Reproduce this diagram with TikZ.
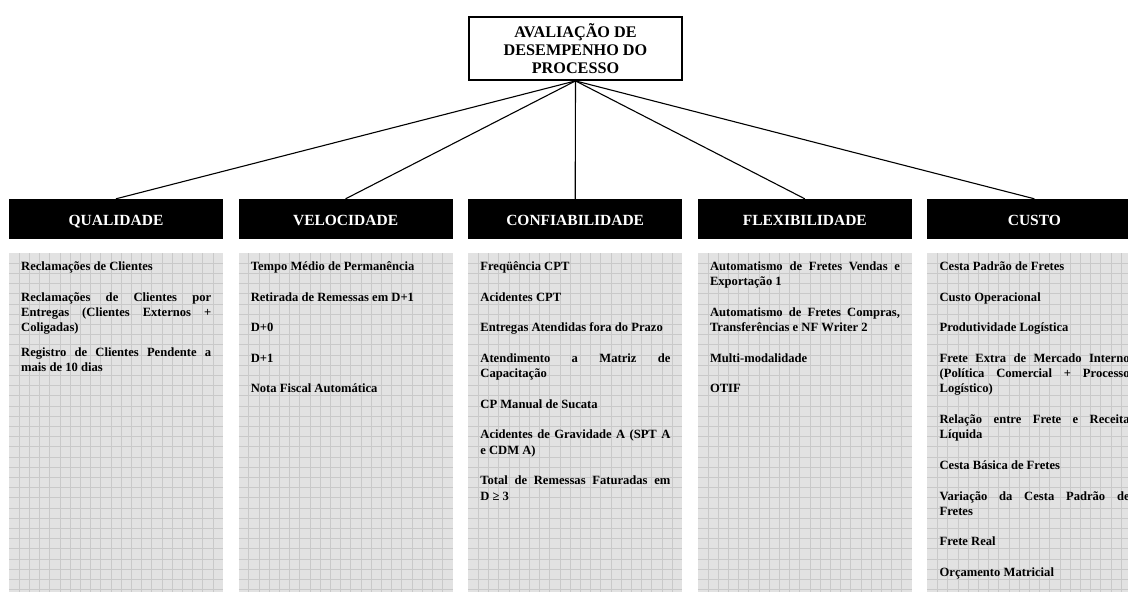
\documentclass[tikz,border=0pt]{standalone}
\usepackage{fontspec}
\setmainfont{Liberation Serif}
\begin{document}
\begin{tikzpicture}[x=1pt,y=-1pt,
  topbox/.style={draw=black, line width=1.8pt, fill=white, minimum width=213pt,
    minimum height=63pt, inner sep=0pt, align=center,
    font=\fontsize{16.2}{18}\selectfont\bfseries},
  headbox/.style={fill=black, text=white, minimum width=214pt, minimum height=40pt,
    inner sep=0pt, text height=13.3pt, text depth=0pt,
    font=\fontsize{15.5}{18}\selectfont\bfseries},
  itemtext/.style={anchor=base west, inner sep=0pt, text width=190pt, align=justify,
    font=\fontsize{12.6}{15.3}\selectfont\bfseries\itemsetup},
  link/.style={draw=black, line width=1.1pt},
  gridline/.style={draw=black!21, line width=0.9pt}]
\newcommand\itemsetup{\setlength{\parskip}{15.3pt}\setlength{\parindent}{0pt}%
  \tolerance=10000 \hyphenpenalty=10000 \exhyphenpenalty=10000 }
\definecolor{paper}{HTML}{E2E2E2}

\useasboundingbox (0,0) rectangle (1128,592);
\clip (0,0) rectangle (1128,592);

% squared panels under each heading
\foreach \l in {9,238.6,468.2,697.8,927.4}{
  \fill[paper] (\l,253) rectangle (\l+214,600);
  \foreach \i in {1,...,20}
    \draw[gridline] (\l+\i*10.2,253) -- (\l+\i*10.2,600);
  \foreach \j in {1,...,34}
    \draw[gridline] (\l,253+\j*10.2) -- (\l+214,253+\j*10.2);
}

% root and the five dimensions
\node[topbox] (root) at (575.5,48.5) {AVALIAÇÃO DE\\DESEMPENHO DO\\PROCESSO};
\node[headbox] (q) at (116,219) {QUALIDADE};
\node[headbox] (v) at (345.6,219) {VELOCIDADE};
\node[headbox] (c) at (575.2,219) {CONFIABILIDADE};
\node[headbox] (f) at (804.8,219) {FLEXIBILIDADE};
\node[headbox] (k) at (1034.4,219) {CUSTO};

\foreach \h in {q,v,c,f,k}
  \draw[link] (root.south) -- (\h.north);

% indicators of each dimension
\node[itemtext] (qt) at (21,270.5) {Reclamações de Clientes\par
Reclamações de Clientes por\linebreak Entregas (Clientes Externos +\linebreak Coligadas)\par
\vspace{-6pt}Registro de Clientes Pendente a\linebreak mais de 10 dias};

\node[itemtext] (vt) at (250.6,270.5) {Tempo Médio de Permanência\par
Retirada de Remessas em D+1\par
D+0\par
D+1\par
Nota Fiscal Automática};

\node[itemtext] (ct) at (480.2,270.5) {Freqüência CPT\par
Acidentes CPT\par
Entregas Atendidas fora do Prazo\par
Atendimento a Matriz de\linebreak Capacitação\par
CP Manual de Sucata\par
Acidentes de Gravidade A (SPT A\linebreak e CDM A)\par
Total de Remessas Faturadas em\linebreak D ≥ 3};

\node[itemtext] (ft) at (709.8,270.5) {Automatismo de Fretes Vendas e\linebreak Exportação 1\par
Automatismo de Fretes Compras,\linebreak Transferências e NF Writer 2\par
Multi-modalidade\par
OTIF};

\node[itemtext] (kt) at (939.4,270.5) {Cesta Padrão de Fretes\par
Custo Operacional\par
Produtividade Logística\par
Frete Extra de Mercado Interno\linebreak (Política Comercial + Processo\linebreak Logístico)\par
Relação entre Frete e Receita\linebreak Líquida\par
Cesta Básica de Fretes\par
Variação da Cesta Padrão de\linebreak Fretes\par
Frete Real\par
Orçamento Matricial};
\end{tikzpicture}
\end{document}
